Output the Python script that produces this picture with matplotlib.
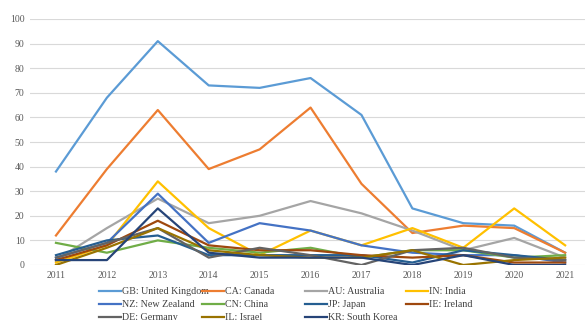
import numpy as np
import matplotlib.pyplot as plt

plt.rcParams['font.family'] = ['Liberation Serif', 'DejaVu Serif']

years = [2011, 2012, 2013, 2014, 2015, 2016, 2017, 2018, 2019, 2020, 2021]

gb = [38, 68, 91, 73, 72, 76, 61, 23, 17, 16, 5]
ca = [12, 39, 63, 39, 47, 64, 33, 13, 16, 15, 5]
au = [2, 15, 27, 17, 20, 26, 21, 14, 6, 11, 3]
ind = [1, 8, 34, 15, 4, 14, 8, 15, 7, 23, 8]
nz = [3, 9, 29, 9, 17, 14, 8, 5, 4, 4, 1]
cn = [9, 5, 10, 7, 5, 7, 3, 6, 6, 3, 4]
jp = [4, 10, 12, 4, 4, 4, 4, 1, 6, 4, 2]
ie = [2, 8, 18, 8, 6, 6, 4, 3, 4, 1, 1]
de = [3, 9, 15, 3, 7, 4, 0, 6, 7, 3, 2]
il = [0, 7, 15, 6, 4, 3, 3, 6, 0, 2, 3]
kr = [2, 2, 23, 5, 3, 3, 3, 0, 4, 0, 0]

labels = ["GB: United Kingdom", "CA: Canada", "AU: Australia", "IN: India",
          "NZ: New Zealand", "CN: China", "JP: Japan", "IE: Ireland",
          "DE: Germany", "IL: Israel", "KR: South Korea"]
series = [gb, ca, au, ind, nz, cn, jp, ie, de, il, kr]
colors = ['#5B9BD5', '#ED7D31', '#A5A5A5', '#FFC000', '#4472C4', '#70AD47',
          '#255E91', '#9E480E', '#636363', '#997300', '#264478']

fig = plt.figure(figsize=(5.87, 3.2), dpi=100)
ax = fig.add_axes([30/587, 1-265/320, 555/587, 246/320])

lines = []
for s, c, lab in zip(series, colors, labels):
    l, = ax.plot(years, s, color=c, lw=1.6, label=lab)
    lines.append(l)

ax.set_ylim(0, 100)
ax.set_xlim(2010.49, 2021.39)
ax.set_yticks(np.arange(0, 101, 10))
ax.set_xticks(years)
ax.grid(axis='y', color='#d9d9d9', lw=0.8)
ax.set_axisbelow(True)
for sp in ax.spines.values():
    sp.set_visible(False)
ax.tick_params(length=0, labelsize=7, colors='#595959', pad=4)

# legend: 4 equal-width columns, filled row by row
col_x = [99, 202, 305, 406]
for k, x0 in enumerate(col_x):
    idx = list(range(k, len(labels), 4))
    fig.legend([lines[i] for i in idx], [labels[i] for i in idx],
               loc='upper left', bbox_to_anchor=(x0/587, 1-287/320),
               frameon=False, fontsize=7.2, labelcolor='#404040',
               handlelength=2.2, handletextpad=0.1,
               labelspacing=0.4, borderpad=0, borderaxespad=0)

fig.savefig('out.png', dpi=100)
